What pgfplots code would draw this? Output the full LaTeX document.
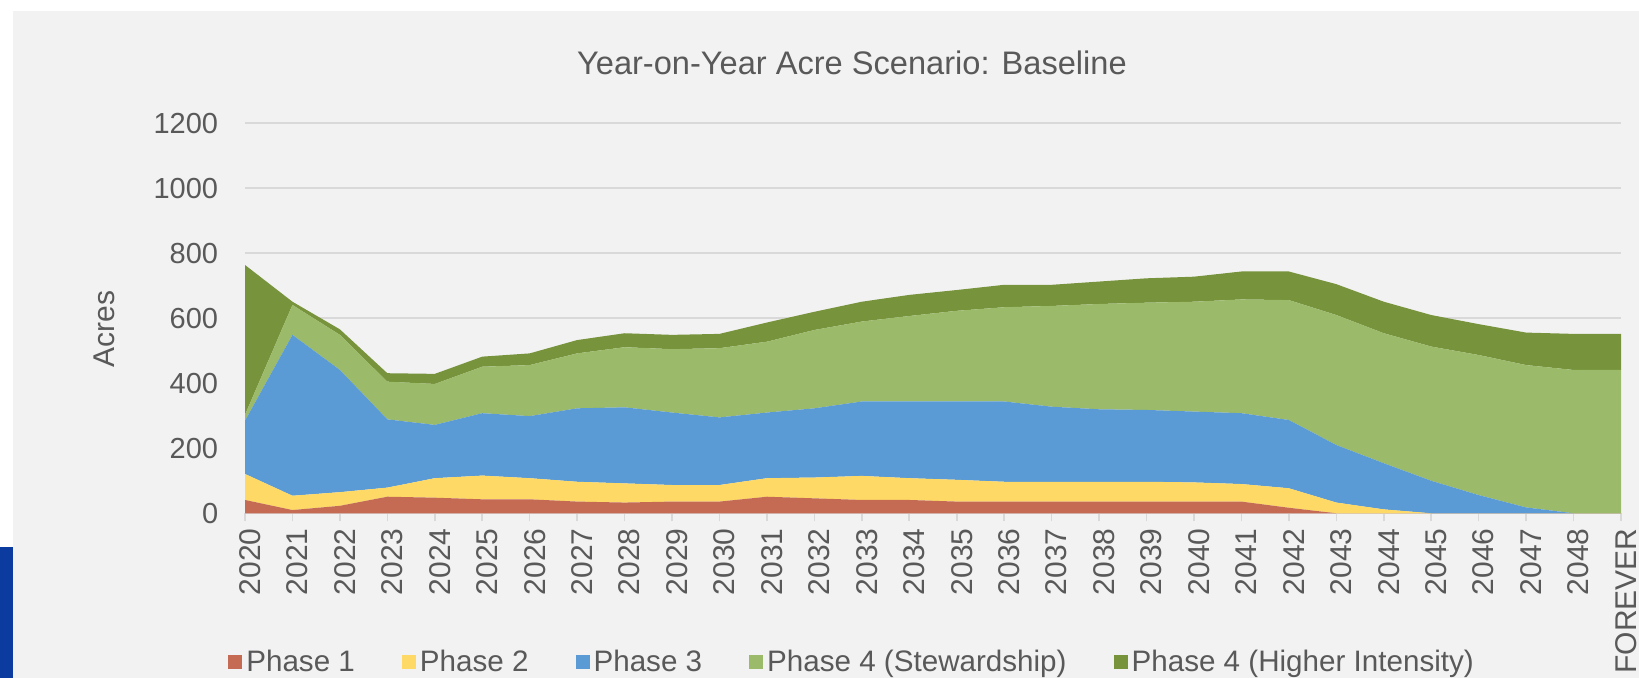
\documentclass[border=0pt]{standalone}
\usepackage{fontspec}
\setmainfont{Liberation Sans}
\usepackage{pgfplots}
\usepackage{pgfplotstable}
\pgfplotsset{compat=1.18}
\definecolor{bggray}{HTML}{F2F2F2}
\definecolor{txt}{HTML}{595959}
\definecolor{gridc}{HTML}{D9D9D9}
\definecolor{cPa}{HTML}{C56A53}
\definecolor{cPb}{HTML}{FFD966}
\definecolor{cPc}{HTML}{5B9BD5}
\definecolor{cPd}{HTML}{9BBB6A}
\definecolor{cPe}{HTML}{77933C}
\definecolor{ublue}{HTML}{0B3B9E}
\newcommand\fa{\fontsize{14.5pt}{17pt}\selectfont}
\newcommand\fl{\fontsize{14.8pt}{17pt}\selectfont}
\newcommand\fb{\fontsize{15pt}{18pt}\selectfont}
\newcommand\fc{\fontsize{16.3pt}{19pt}\selectfont}

\pgfplotstableread{
x p1 p2 p3 p4s p4h
0 41 80 164 18 461
1 10 44 495 92 10
2 23 42 376 108 17
3 51 28 210 116 26
4 48 60 164 126 31
5 43 73 192 143 31
6 43 65 191 157 36
7 36 61 226 169 41
8 33 59 234 185 43
9 36 51 223 195 44
10 36 51 208 213 44
11 51 57 202 218 59
12 46 64 213 241 56
13 41 74 229 246 61
14 41 67 236 263 65
15 36 67 241 279 64
16 36 61 247 290 69
17 36 61 231 310 65
18 36 61 223 324 69
19 36 61 221 330 75
20 36 59 218 338 77
21 36 54 218 350 86
22 17 60 210 369 88
23 0 33 177 400 95
24 0 12 142 400 97
25 0 0 100 413 97
26 0 0 56 431 95
27 0 0 18 438 100
28 0 0 0 441 111
29 0 0 0 441 111
}\datatab

\begin{document}
\begin{tikzpicture}
\path[use as bounding box] (0,0) rectangle (819.5pt,339pt);
\fill[white] (0,0) rectangle (819.5pt,339pt);
\fill[bggray] (6.5pt,0) rectangle (819.5pt,333.5pt);
\fill[ublue] (0,0) rectangle (6.5pt,65.5pt);
\begin{axis}[
  at={(122.5pt,82.35pt)}, anchor=south west,
  scale only axis, width=688pt, height=195pt,
  xmin=0, xmax=29, ymin=0, ymax=1200,
  enlargelimits=false,
  stack plots=y,
  ytick={0,200,...,1200},
  xtick={0,...,29},
  xticklabels={2020,2021,2022,2023,2024,2025,2026,2027,2028,2029,2030,2031,2032,2033,2034,2035,2036,2037,2038,2039,2040,2041,2042,2043,2044,2045,2046,2047,2048,FOREVER},
  /pgf/number format/assume math mode=true,
  /pgf/number format/set thousands separator={},
  ymajorgrids, grid style={gridc, line width=1pt},
  axis x line*=bottom, axis y line*=left,
  y axis line style={draw=none},
  x axis line style={-, gridc, line width=0.8pt},
  ytick style={draw=none},
  xtick style={gridc, line width=0.8pt},
  tick align=outside, major tick length=4pt,
  yticklabel style={font=\fa, text=txt, xshift=-5.9pt},
  xticklabel style={font=\fb, text=txt, rotate=90, anchor=east, yshift=-2.5pt},
  title={Year-on-Year Acre Scenario: Baseline},
  title style={at={(axis description cs:0.4411,1.125)}, anchor=center, yshift=0pt, font=\fc, text=txt},
  ylabel={Acres},
  ylabel style={at={(axis description cs:-0.1025,0.4726)}, anchor=center, font=\fb, text=txt},
  legend columns=5,
  legend cell align=left,
  legend style={at={(axis description cs:-0.0124,-0.381)}, anchor=west, draw=none, fill=none, inner sep=0pt, font=\fl, text=txt,
    /tikz/every even column/.append style={column sep=21.5pt}},
  legend image code/.code={\fill[#1] (0pt,-3.5pt) rectangle (7pt,3.5pt);},
]
\addplot[fill=cPa, draw=none] table[x=x, y=p1] {\datatab} \closedcycle;
\addlegendentry{Phase 1}
\addplot[fill=cPb, draw=none] table[x=x, y=p2] {\datatab} \closedcycle;
\addlegendentry{Phase 2}
\addplot[fill=cPc, draw=none] table[x=x, y=p3] {\datatab} \closedcycle;
\addlegendentry{Phase 3}
\addplot[fill=cPd, draw=none] table[x=x, y=p4s] {\datatab} \closedcycle;
\addlegendentry{Phase 4 (Stewardship)}
\addplot[fill=cPe, draw=none] table[x=x, y=p4h] {\datatab} \closedcycle;
\addlegendentry{Phase 4 (Higher Intensity)}
\end{axis}
\end{tikzpicture}
\end{document}
